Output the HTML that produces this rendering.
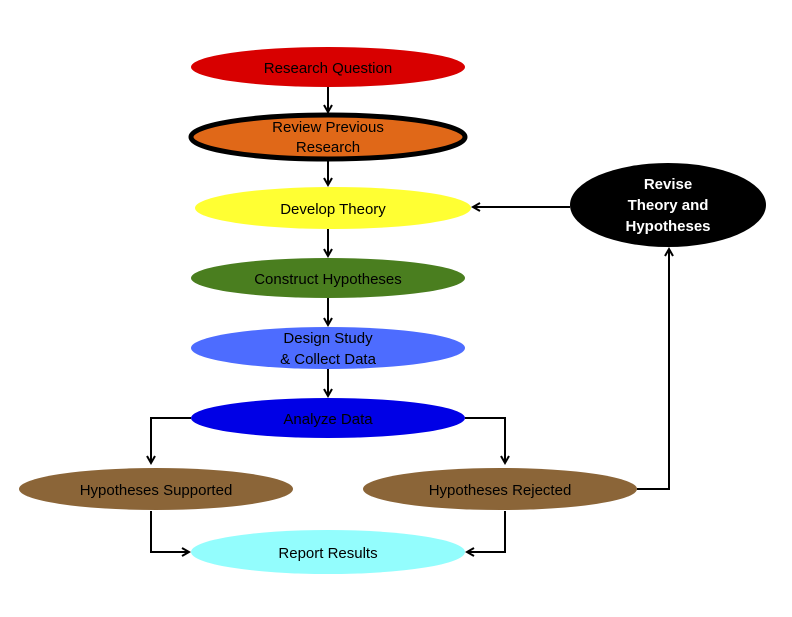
<!DOCTYPE html>
<html><head><style>body{margin:0;background:#fff}</style></head><body>
<svg width="792" height="612" xmlns="http://www.w3.org/2000/svg" font-family="Liberation Sans, sans-serif" font-size="15">
<defs><marker id="a" markerWidth="10" markerHeight="10" refX="8" refY="5" orient="auto" markerUnits="userSpaceOnUse"><path d="M1,1 L8,5 L1,9" fill="none" stroke="#000" stroke-width="2"/></marker></defs>
<g stroke="#000" stroke-width="2" fill="none" marker-end="url(#a)">
<line x1="328" y1="87" x2="328" y2="112"/>
<line x1="328" y1="161" x2="328" y2="185"/>
<line x1="328" y1="229" x2="328" y2="256"/>
<line x1="328" y1="298" x2="328" y2="325"/>
<line x1="328" y1="369" x2="328" y2="396"/>
<polyline points="191,418 151,418 151,463"/>
<polyline points="465,418 505,418 505,463"/>
<polyline points="151,511 151,552 189,552"/>
<polyline points="505,511 505,552 467,552"/>
<polyline points="637,489 669,489 669,249"/>
<line x1="570" y1="207" x2="473" y2="207"/>
</g>
<ellipse cx="328" cy="67" rx="137" ry="20" fill="#d80000"/>
<ellipse cx="328" cy="137" rx="137" ry="22" fill="#e06818" stroke="#000" stroke-width="5"/>
<ellipse cx="333" cy="208" rx="138" ry="21" fill="#ffff33"/>
<ellipse cx="328" cy="278" rx="137" ry="20" fill="#4a7e1f"/>
<ellipse cx="328" cy="348" rx="137" ry="21" fill="#4d6cff"/>
<ellipse cx="328" cy="418" rx="137" ry="20" fill="#0000e6"/>
<ellipse cx="156" cy="489" rx="137" ry="21" fill="#8b6538"/>
<ellipse cx="500" cy="489" rx="137" ry="21" fill="#8b6538"/>
<ellipse cx="328" cy="552" rx="137" ry="22" fill="#93fdfd"/>
<ellipse cx="668" cy="205" rx="98" ry="42" fill="#000"/>
<g text-anchor="middle" fill="#000">
<text x="328" y="73">Research Question</text>
<text x="328" y="132">Review Previous</text>
<text x="328" y="152">Research</text>
<text x="333" y="214">Develop Theory</text>
<text x="328" y="284">Construct Hypotheses</text>
<text x="328" y="343">Design Study</text>
<text x="328" y="364">&amp; Collect Data</text>
<text x="328" y="424">Analyze Data</text>
<text x="156" y="495">Hypotheses Supported</text>
<text x="500" y="495">Hypotheses Rejected</text>
<text x="328" y="558">Report Results</text>
<g fill="#fff" font-weight="bold"><text x="668" y="189">Revise</text><text x="668" y="210">Theory and</text><text x="668" y="231">Hypotheses</text></g>
</g>
</svg>
</body></html>
